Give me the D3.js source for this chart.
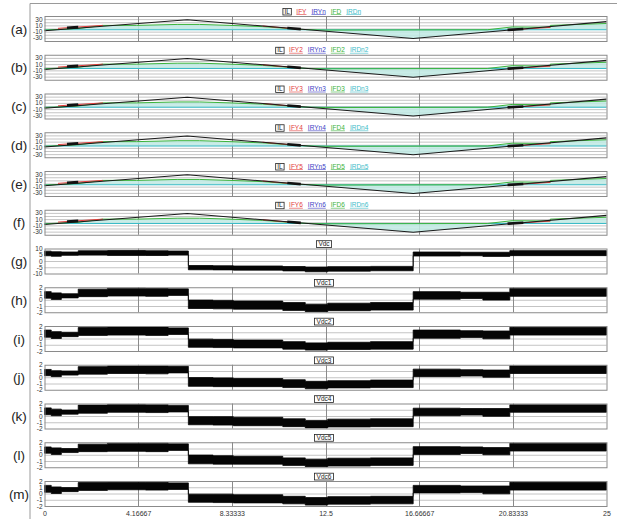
<!DOCTYPE html>
<html>
<head>
<meta charset="utf-8">
<script src="https://cdn.jsdelivr.net/npm/d3@7"></script>
<style>
  body { margin: 0; background: #fff; }
  svg { display: block; font-family: Arial, "Liberation Sans", sans-serif; }
</style>
</head>
<body>
<svg id="chart" width="617" height="519"></svg>
<script>
// ---- shared time axis ----
const timeTicks = [0, 4.16667, 8.33333, 12.5, 16.66667, 20.83333, 25];
const timeTickLabels = ["0", "4.16667", "8.33333", "12.5", "16.66667", "20.83333", "25"];
const panelLetters = ["(a)", "(b)", "(c)", "(d)", "(e)", "(f)", "(g)", "(h)", "(i)", "(j)", "(k)", "(l)", "(m)"];

// ---- phase current panels (a)-(f) ----
const currentSuffixes = ["", "2", "3", "4", "5", "6"];
const currentTicks = [30, 10, -10, -30];
const currentGrid = [30, 20, 10, 0, -10, -20, -30];

// inductor current IL (breakpoints)
const ilTime  = [0, 6.35, 16.4, 25];
const ilValue = [-7, 28, -32, 22];

// IFD trace
const ifdTime  = [0, 1.5, 2.6, 4.1, 5.9, 6.9, 8.25, 9.7, 11.4, 12.5, 19.7, 20.8, 22.5, 22.5, 25];
const ifdValue = [-5, 0, 10, 10, 13, 13, 10, 6, -3, -5, -4, 5, 4, 10, 16];

// IRDn trace
const irdnTime  = [0, 25];
const irdnValue = [-4, -4];

// switching band between the delta-branch currents
const bandTime = [0, 1.5, 2.6, 4.1, 5.9, 6.9, 8.25, 9.7, 11.4, 12.5, 16.4, 19.7, 20.8, 22.5, 22.5, 25];
const bandHigh = [-4, 0, 10, 10, 13, 13, 10, 6, -3, -4, -4, -4, 5, 4, 10, 16];
const bandLow  = [-5, -5, -5, -5, -5, -5, -5, -5, -5, -9, -32, -13, -5, -5, -5, -5];

// IFY conduction intervals
const ifyStart = [0.6, 9.7, 20.6];
const ifyEnd   = [2.6, 11.4, 22.5];
const ifyFrom  = [0.5, 8, -5];
const ifyTo    = [10, -2.7, 3.7];

// dense overlap spots
const spotStart = [1.0, 10.8, 20.6];
const spotEnd   = [1.5, 11.4, 21.3];
const spotFrom  = [2.5, 1.5, -4.5];
const spotTo    = [4.5, -2, -1.5];

// ---- DC-link voltage panels (g)-(m) ----
const vdcNames = ["Vdc", "Vdc1", "Vdc2", "Vdc3", "Vdc4", "Vdc5", "Vdc6"];
const vdcTicksMain = [10, 5, 0, -5, -10];
const vdcTicksCell = [2, 1, 0, -1, -2];
// ripple envelope, piecewise constant over these intervals
const vdcSegStart = [0, 0.3, 0.75, 1.5, 2.8, 4.5, 5.5, 6.4, 7.5, 8.4, 10.6, 11.6, 12.6, 14.5, 16.4, 18.5, 19.5, 20.7];
const vdcSegEnd   = [0.3, 0.75, 1.5, 2.8, 4.5, 5.5, 6.4, 7.5, 8.4, 10.6, 11.6, 12.6, 14.5, 16.4, 18.5, 19.5, 20.7, 25];
const vdcHigh = [
  [7.9, 7.4, 7.2, 8.2, 8.4, 8.2, 8.0, -3.6, -3.8, -4.0, -4.4, -4.8, -4.5, -4.3, 7.2, 7.0, 7.0, 8.3],
  [1.3, 1.1, 0.95, 1.7, 1.85, 1.8, 1.75, -0.05, -0.1, -0.2, -0.45, -0.7, -0.55, -0.45, 1.3, 1.2, 1.2, 1.85],
  [1.35, 1.1, 1.0, 1.75, 1.85, 1.85, 1.7, -0.1, -0.15, -0.25, -0.5, -0.7, -0.6, -0.5, 1.35, 1.25, 1.2, 1.8],
  [1.25, 1.05, 1.0, 1.7, 1.8, 1.8, 1.75, -0.05, -0.1, -0.2, -0.4, -0.65, -0.55, -0.45, 1.3, 1.2, 1.15, 1.85],
  [1.3, 1.1, 0.95, 1.75, 1.85, 1.8, 1.7, -0.1, -0.1, -0.2, -0.45, -0.7, -0.5, -0.45, 1.25, 1.2, 1.2, 1.8],
  [1.25, 1.1, 1.0, 1.7, 1.85, 1.85, 1.75, -0.05, -0.15, -0.25, -0.5, -0.7, -0.55, -0.5, 1.3, 1.25, 1.15, 1.85],
  [1.3, 1.05, 0.95, 1.75, 1.8, 1.8, 1.7, -0.1, -0.1, -0.2, -0.45, -0.65, -0.5, -0.45, 1.3, 1.2, 1.2, 1.8]
];
const vdcLow = [
  [4.2, 3.8, 4.6, 4.8, 4.5, 4.4, 4.8, -7.0, -7.1, -7.3, -7.9, -8.6, -8.1, -7.8, 4.0, 4.2, 3.7, 4.3],
  [0.25, 0.05, 0.3, 0.5, 0.6, 0.55, 0.7, -1.4, -1.45, -1.5, -1.7, -1.9, -1.75, -1.65, 0.1, 0.2, -0.05, 0.55],
  [0.2, 0.0, 0.3, 0.5, 0.55, 0.5, 0.65, -1.4, -1.45, -1.5, -1.7, -1.85, -1.75, -1.7, 0.05, 0.15, -0.05, 0.55],
  [0.25, 0.1, 0.35, 0.5, 0.6, 0.55, 0.7, -1.45, -1.5, -1.5, -1.65, -1.85, -1.7, -1.65, 0.1, 0.2, 0.0, 0.6],
  [0.2, 0.05, 0.3, 0.45, 0.6, 0.55, 0.65, -1.4, -1.45, -1.55, -1.7, -1.9, -1.75, -1.7, 0.05, 0.15, -0.05, 0.6],
  [0.25, 0.05, 0.35, 0.5, 0.55, 0.5, 0.7, -1.45, -1.5, -1.5, -1.7, -1.9, -1.8, -1.7, 0.05, 0.2, 0.0, 0.6],
  [0.2, 0.0, 0.3, 0.5, 0.6, 0.55, 0.65, -1.4, -1.45, -1.5, -1.65, -1.85, -1.7, -1.65, 0.1, 0.15, -0.05, 0.55]
];

// ---- layout ----
const svg = d3.select("#chart");
const x = d3.scaleLinear().domain([0, 25]).range([44.5, 606.5]);
const panelStep = 38.75;
const firstTop = 16;
const plotH = 25;
const gridColor = "#c4c4c4";
const vGridColor = "#8a8a8a";
const borderColor = "#8a8a8a";
const colors = { IL: "#1a1a1a", IFY: "#e23b3b", IRYn: "#3c3cc4", IFD: "#3cb43c", IRDn: "#3cbcc8" };

// outer frame
svg.append("path").attr("d", "M30,519V3.5H617").attr("fill", "none").attr("stroke", "#9a9a9a");

function panelFrame(g, top, y, gridVals, tickVals, letter) {
  g.selectAll(".hgrid").data(gridVals).join("line")
    .attr("x1", x(0)).attr("x2", x(25))
    .attr("y1", d => y(d) + 0.5).attr("y2", d => y(d) + 0.5)
    .attr("stroke", gridColor).attr("stroke-width", 1);
  g.selectAll(".vgrid").data(timeTicks.slice(1, -1)).join("line")
    .attr("x1", d => Math.round(x(d)) + 0.5).attr("x2", d => Math.round(x(d)) + 0.5)
    .attr("y1", top).attr("y2", top + plotH)
    .attr("stroke", vGridColor).attr("stroke-width", 1);
  const ax = g.append("g").attr("transform", `translate(${x(0)},0)`)
    .call(d3.axisLeft(y).tickValues(tickVals).tickSize(0).tickPadding(2).tickFormat(d => String(d)));
  ax.select(".domain").remove();
  ax.selectAll("text").attr("font-size", 6.5).attr("fill", "#333").attr("font-family", "Arial, 'Liberation Sans', sans-serif");
  g.append("text").attr("x", 19).attr("y", top + 14).attr("text-anchor", "middle")
    .attr("dominant-baseline", "middle").attr("font-size", 13.5).attr("fill", "#222").text(letter);
}

function panelBorder(g, top) {
  g.append("rect").attr("x", x(0) + 0.5).attr("y", top + 0.5)
    .attr("width", x(25) - x(0)).attr("height", plotH)
    .attr("fill", "none").attr("stroke", borderColor);
}

const zipPts = (ts, vs) => ts.map((t, i) => ({ t, v: vs[i] }));

// ---- current panels ----
currentSuffixes.forEach((suf, i) => {
  const top = firstTop + i * panelStep;
  const y = d3.scaleLinear().domain([-40, 40]).range([top + plotH, top]);
  const g = svg.append("g");
  panelFrame(g, top, y, currentGrid, currentTicks, panelLetters[i]);

  const line = d3.line().x(d => x(d.t)).y(d => y(d.v));
  const band = bandTime.map((t, k) => ({ t, hi: bandHigh[k], lo: bandLow[k] }));
  g.append("path").datum(band)
    .attr("d", d3.area().x(d => x(d.t)).y0(d => y(d.lo)).y1(d => y(d.hi)))
    .attr("fill", "#bfeae4").attr("opacity", 0.85);

  g.append("path").datum(zipPts(irdnTime, irdnValue)).attr("d", line)
    .attr("fill", "none").attr("stroke", colors.IRDn).attr("stroke-width", 1);
  g.append("path").datum(zipPts(ifdTime, ifdValue)).attr("d", line)
    .attr("fill", "none").attr("stroke", colors.IFD).attr("stroke-width", 1);
  ifyStart.forEach((t0, k) => {
    g.append("path").datum([{ t: t0, v: ifyFrom[k] }, { t: ifyEnd[k], v: ifyTo[k] }]).attr("d", line)
      .attr("fill", "none").attr("stroke", colors.IFY).attr("stroke-width", 1);
  });
  g.append("path").datum(zipPts(ilTime, ilValue)).attr("d", line)
    .attr("fill", "none").attr("stroke", colors.IL).attr("stroke-width", 1.1);
  spotStart.forEach((t0, k) => {
    g.append("path").datum([{ t: t0, v: spotFrom[k] }, { t: spotEnd[k], v: spotTo[k] }]).attr("d", line)
      .attr("fill", "none").attr("stroke", "#111").attr("stroke-width", 2.6);
  });
  panelBorder(g, top);

  // legend
  const lg = g.append("g").attr("font-size", 6.5);
  const items = [
    { text: "IL", c: colors.IL, box: true },
    { text: "IFY" + suf, c: colors.IFY },
    { text: "IRYn" + suf, c: colors.IRYn },
    { text: "IFD" + suf, c: colors.IFD },
    { text: "IRDn" + suf, c: colors.IRDn }
  ];
  let cx = 0;
  const base = top - 2.5;
  const placed = items.map(it => {
    const tEl = lg.append("text").attr("y", base).attr("fill", it.c).text(it.text);
    const w = tEl.node().getComputedTextLength();
    const rec = { el: tEl, x: cx + (it.box ? 1.5 : 0), w, it };
    cx += w + (it.box ? 3 : 0) + 5;
    return rec;
  });
  const total = cx - 5;
  const off = 322 - total / 2;
  placed.forEach(p => {
    p.el.attr("x", off + p.x);
    if (p.it.box) {
      lg.append("rect").attr("x", off + p.x - 1.5).attr("y", top - 7.5)
        .attr("width", p.w + 3).attr("height", 6.5)
        .attr("fill", "none").attr("stroke", "#222").attr("stroke-width", 0.8);
    } else {
      lg.append("line").attr("x1", off + p.x).attr("x2", off + p.x + p.w)
        .attr("y1", base + 1).attr("y2", base + 1).attr("stroke", p.it.c).attr("stroke-width", 0.6);
    }
  });
});

// ---- DC-link voltage panels ----
vdcNames.forEach((name, j) => {
  const i = j + 6;
  const top = firstTop + i * panelStep;
  const ticks = j === 0 ? vdcTicksMain : vdcTicksCell;
  const lim = ticks[0];
  const y = d3.scaleLinear().domain([-lim, lim]).range([top + plotH, top]);
  const g = svg.append("g");
  panelFrame(g, top, y, ticks.slice(1, -1), ticks, panelLetters[i]);

  const pts = [];
  vdcSegStart.forEach((t0, k) => {
    pts.push({ t: t0, hi: vdcHigh[j][k], lo: vdcLow[j][k] });
    pts.push({ t: vdcSegEnd[k], hi: vdcHigh[j][k], lo: vdcLow[j][k] });
  });
  g.append("path").datum(pts)
    .attr("d", d3.area().x(d => x(d.t)).y0(d => y(d.lo)).y1(d => y(d.hi)))
    .attr("fill", "#050505").attr("stroke", "#050505").attr("stroke-width", 0.8);
  panelBorder(g, top);

  // legend box
  const tEl = g.append("text").attr("x", 324).attr("y", top - 2.2)
    .attr("text-anchor", "middle").attr("font-size", 6.5).attr("fill", "#222").text(name);
  const w = tEl.node().getComputedTextLength();
  g.append("rect").attr("x", 324 - w / 2 - 2).attr("y", top - 7.8)
    .attr("width", w + 4).attr("height", 6.8)
    .attr("fill", "none").attr("stroke", "#222").attr("stroke-width", 0.8);
});

// ---- bottom time axis labels ----
const axisY = firstTop + 12 * panelStep + plotH + 2;
const xa = svg.append("g").attr("transform", `translate(0,${axisY})`)
  .call(d3.axisBottom(x).tickValues(timeTicks).tickSize(0).tickPadding(3)
    .tickFormat((d, k) => timeTickLabels[k]));
xa.select(".domain").remove();
xa.selectAll("text").attr("font-size", 7).attr("fill", "#333").attr("font-family", "Arial, 'Liberation Sans', sans-serif");
</script>
</body>
</html>
